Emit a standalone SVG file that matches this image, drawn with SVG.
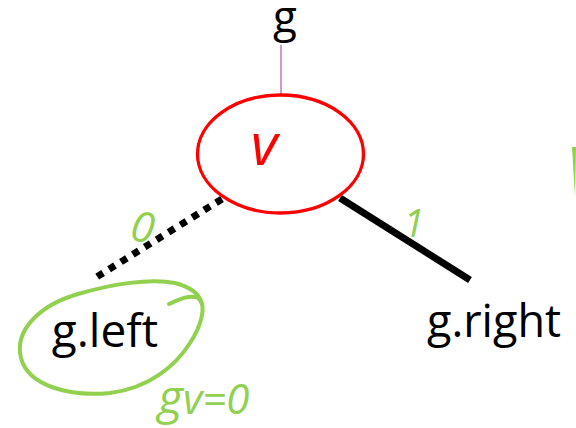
<svg xmlns="http://www.w3.org/2000/svg" width="576" height="428" viewBox="0 0 576 428">
  <style>
    .lbl { font-family: "Open Sans", "Liberation Sans", sans-serif; fill: #000; }
    .ink { fill: none; stroke: #92D050; stroke-width: 4; stroke-linecap: round; stroke-linejoin: round; }
    .inktxt { font-family: "Open Sans", "Liberation Sans", sans-serif; fill: #92D050; font-style: italic; }
  </style>
  <rect width="576" height="428" fill="#fff"/>
  <g id="connectors">
    <line x1="281" y1="45" x2="281" y2="95" stroke="#B07CC6" stroke-width="1.5"/>
    <line x1="222" y1="199" x2="95" y2="278" stroke="#000" stroke-width="7" stroke-dasharray="7 7"/>
    <line x1="340" y1="198" x2="470" y2="280" stroke="#000" stroke-width="7"/>
  </g>
  <g id="node-g">
    <text class="lbl" x="285" y="32" font-size="44" text-anchor="middle">g</text>
  </g>
  <g id="node-v">
    <ellipse cx="280.5" cy="154" rx="83" ry="59" fill="#fff" stroke="#FF0000" stroke-width="3.3"/>
    <text x="264" y="165" font-family="'Open Sans', 'Liberation Sans', sans-serif" font-style="italic" font-size="58" fill="#FF0000" text-anchor="middle">v</text>
  </g>
  <g id="node-g-left">
    <text class="lbl" x="105" y="347" font-size="46" text-anchor="middle">g.left</text>
  </g>
  <g id="node-g-right">
    <text class="lbl" x="494" y="337" font-size="45" text-anchor="middle">g.right</text>
  </g>
  <g id="annotations">
    <path class="ink" d="M 169 304 C 178 300, 190 294, 198 298 C 208 305, 200 328, 190 343 C 176 365, 150 388, 110 393 C 70 397, 28 386, 21 358 C 14 330, 40 305, 78 294 C 112 284, 150 278, 175 283 C 190 287, 198 293, 201 301"/>
    <path d="M 572 147 L 576 147 L 575 197 Z" fill="#92D050"/>
    <text class="inktxt" x="143" y="242" font-size="42" text-anchor="middle" transform="rotate(10 143 225)">0</text>
    <text class="inktxt" x="414" y="237" font-size="38" text-anchor="middle">1</text>
    <text class="inktxt" x="158" y="414" font-size="48">g<tspan font-size="42">v=0</tspan></text>
  </g>
</svg>
